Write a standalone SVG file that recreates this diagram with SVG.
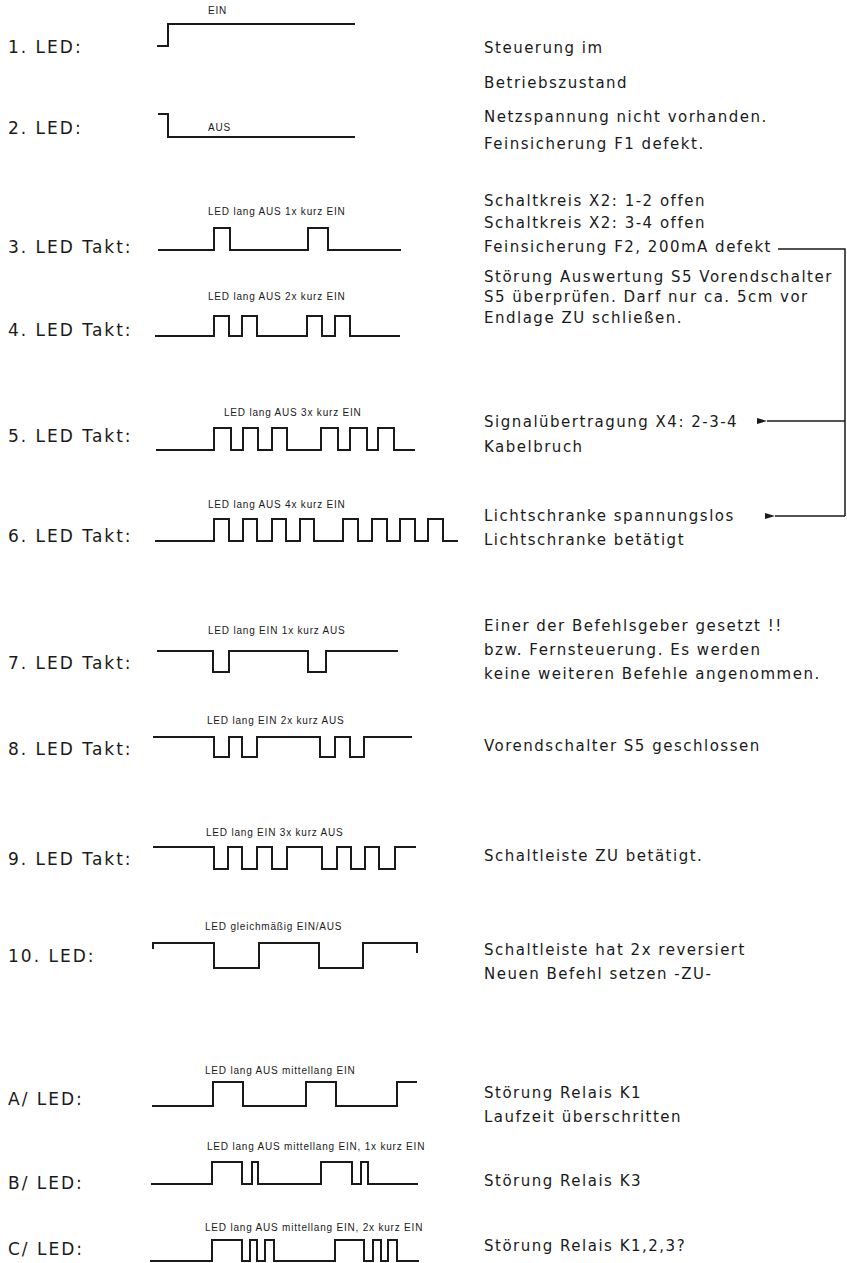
<svg xmlns="http://www.w3.org/2000/svg" width="847" height="1263" viewBox="0 0 847 1263">
<style>
.lbl{font-family:"DejaVu Sans",Verdana,sans-serif;font-size:17px;letter-spacing:2px;fill:#1a1a1a}
.desc{font-family:"DejaVu Sans",Verdana,sans-serif;font-size:15px;letter-spacing:1.5px;fill:#1a1a1a}
.cap{font-family:"Liberation Sans",Arial,sans-serif;font-size:10px;letter-spacing:0.8px;fill:#1a1a1a}
.wave{fill:none;stroke:#1a1a1a;stroke-width:2;stroke-linejoin:miter;stroke-linecap:butt}
.conn{fill:none;stroke:#1a1a1a;stroke-width:1.5}
</style>
<defs>
<marker id="arr" viewBox="0 0 10 6" refX="0" refY="3" markerWidth="10" markerHeight="6" markerUnits="userSpaceOnUse" orient="auto-start-reverse">
<path d="M0,3 L10,0 L10,6 Z" fill="#1a1a1a"/>
</marker>
</defs>
<rect width="847" height="1263" fill="#ffffff"/>

<g id="row1">
<text class="lbl" x="8" y="53">1. LED:</text>
<text class="cap" x="208" y="14">EIN</text>
<path class="wave" d="M157,46 H168 V24 H355"/>
<text class="desc" x="484" y="53">Steuerung im</text>
<text class="desc" x="484" y="88">Betriebszustand</text>
</g>

<g id="row2">
<text class="lbl" x="8" y="134">2. LED:</text>
<text class="cap" x="208" y="131">AUS</text>
<path class="wave" d="M158,114 H168 V137 H355"/>
<text class="desc" x="484" y="122">Netzspannung nicht vorhanden.</text>
<text class="desc" x="484" y="149">Feinsicherung F1 defekt.</text>
</g>

<g id="row3">
<text class="lbl" x="8" y="253">3. LED Takt:</text>
<text class="cap" x="208" y="215">LED lang AUS 1x kurz EIN</text>
<path class="wave" d="M158,250 H214 V228 H230 V250 H308 V228 H328 V250 H401"/>
<text class="desc" x="484" y="206">Schaltkreis X2: 1-2 offen</text>
<text class="desc" x="484" y="228">Schaltkreis X2: 3-4 offen</text>
<text class="desc" x="484" y="252">Feinsicherung F2, 200mA defekt</text>
</g>

<g id="row4">
<text class="lbl" x="8" y="336">4. LED Takt:</text>
<text class="cap" x="208" y="300">LED lang AUS 2x kurz EIN</text>
<path class="wave" d="M155,336 H214 V316 H229 V336 H242 V316 H257 V336 H307 V316 H322 V336 H335 V316 H350 V336 H400"/>
<text class="desc" x="484" y="282">Störung Auswertung S5 Vorendschalter</text>
<text class="desc" x="484" y="302">S5 überprüfen. Darf nur ca. 5cm vor</text>
<text class="desc" x="484" y="323">Endlage ZU schließen.</text>
</g>

<g id="row5">
<text class="lbl" x="8" y="442">5. LED Takt:</text>
<text class="cap" x="224" y="416">LED lang AUS 3x kurz EIN</text>
<path class="wave" d="M156,450 H214 V428 H231 V450 H243 V428 H258 V450 H272 V428 H287 V450 H321 V428 H338 V450 H350 V428 H367 V450 H378 V428 H394 V450 H415"/>
<text class="desc" x="484" y="427">Signalübertragung X4: 2-3-4</text>
<text class="desc" x="484" y="452">Kabelbruch</text>
</g>

<g id="row6">
<text class="lbl" x="8" y="542">6. LED Takt:</text>
<text class="cap" x="208" y="508">LED lang AUS 4x kurz EIN</text>
<path class="wave" d="M155,541 H214 V519 H229 V541 H243 V519 H257 V541 H272 V519 H286 V541 H300 V519 H314 V541 H343 V519 H358 V541 H372 V519 H387 V541 H400 V519 H415 V541 H428 V519 H443 V541 H458"/>
<text class="desc" x="484" y="521">Lichtschranke spannungslos</text>
<text class="desc" x="484" y="545">Lichtschranke betätigt</text>
</g>

<g id="row7">
<text class="lbl" x="8" y="669">7. LED Takt:</text>
<text class="cap" x="208" y="634">LED lang EIN 1x kurz AUS</text>
<path class="wave" d="M157,651 H213 V672 H229 V651 H308 V672 H326 V651 H398"/>
<text class="desc" x="484" y="631">Einer der Befehlsgeber gesetzt !!</text>
<text class="desc" x="484" y="655">bzw. Fernsteuerung. Es werden</text>
<text class="desc" x="484" y="679">keine weiteren Befehle angenommen.</text>
</g>

<g id="row8">
<text class="lbl" x="8" y="755">8. LED Takt:</text>
<text class="cap" x="207" y="724">LED lang EIN 2x kurz AUS</text>
<path class="wave" d="M153,737 H214 V757 H229 V737 H242 V757 H257 V737 H320 V757 H335 V737 H350 V757 H364 V737 H412"/>
<text class="desc" x="484" y="751">Vorendschalter S5 geschlossen</text>
</g>

<g id="row9">
<text class="lbl" x="8" y="865">9. LED Takt:</text>
<text class="cap" x="206" y="836">LED lang EIN 3x kurz AUS</text>
<path class="wave" d="M153,847 H214 V869 H228 V847 H242 V869 H257 V847 H272 V869 H287 V847 H322 V869 H337 V847 H351 V869 H365 V847 H379 V869 H395 V847 H416"/>
<text class="desc" x="484" y="861">Schaltleiste ZU betätigt.</text>
</g>

<g id="row10">
<text class="lbl" x="8" y="962">10. LED:</text>
<text class="cap" x="205" y="930">LED gleichmäßig EIN/AUS</text>
<path class="wave" d="M153,949 V943 H214 V968 H259 V943 H319 V968 H363 V943 H417 V953"/>
<text class="desc" x="484" y="955">Schaltleiste hat 2x reversiert</text>
<text class="desc" x="484" y="979">Neuen Befehl setzen -ZU-</text>
</g>

<g id="rowA">
<text class="lbl" x="8" y="1105">A/ LED:</text>
<text class="cap" x="205" y="1074">LED lang AUS mittellang EIN</text>
<path class="wave" d="M152,1106 H213 V1082 H243 V1106 H306 V1082 H336 V1106 H397 V1082 H417"/>
<text class="desc" x="484" y="1098">Störung Relais K1</text>
<text class="desc" x="484" y="1122">Laufzeit überschritten</text>
</g>

<g id="rowB">
<text class="lbl" x="8" y="1189">B/ LED:</text>
<text class="cap" x="207" y="1150">LED lang AUS mittellang EIN, 1x kurz EIN</text>
<path class="wave" d="M151,1184 H212 V1162 H242 V1184 H252 V1162 H258 V1184 H321 V1162 H352 V1184 H361 V1162 H368 V1184 H418"/>
<text class="desc" x="484" y="1186">Störung Relais K3</text>
</g>

<g id="rowC">
<text class="lbl" x="8" y="1255">C/ LED:</text>
<text class="cap" x="205" y="1231">LED lang AUS mittellang EIN, 2x kurz EIN</text>
<path class="wave" d="M150,1261 H212 V1240 H242 V1261 H250 V1240 H257 V1261 H265 V1240 H274 V1261 H335 V1240 H364 V1261 H373 V1240 H381 V1261 H388 V1240 H397 V1261 H419"/>
<text class="desc" x="484" y="1251">Störung Relais K1,2,3?</text>
</g>

<g id="connectors">
<path class="conn" d="M778,249 H845 V516"/>
<path class="conn" d="M845,421 H767" marker-end="url(#arr)"/>
<path class="conn" d="M845,516 H775" marker-end="url(#arr)"/>
</g>
</svg>
